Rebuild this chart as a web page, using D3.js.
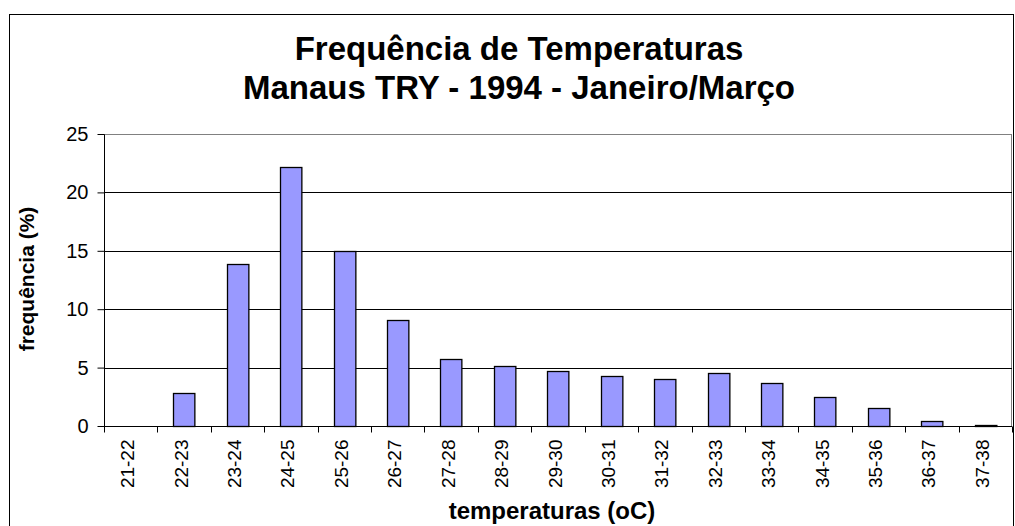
<!DOCTYPE html>
<html>
<head>
<meta charset="utf-8">
<script src="https://cdn.jsdelivr.net/npm/d3@7"></script>
<style>
  body { margin: 0; background: #fff; }
  svg { display: block; font-family: "Liberation Sans", Arial, sans-serif; }
  .axis path, .axis line { stroke: #000; }
</style>
</head>
<body>
<div id="chart"></div>
<script>
// faixas de temperatura (oC)
const categories = ["21-22", "22-23", "23-24", "24-25", "25-26", "26-27", "27-28", "28-29",
  "29-30", "30-31", "31-32", "32-33", "33-34", "34-35", "35-36", "36-37", "37-38"];
// frequencia (%)
const frequencies = [0, 2.8, 13.9, 22.2, 15.0, 9.05, 5.75, 5.1, 4.75, 4.3, 4.05, 4.5, 3.7, 2.45, 1.55, 0.45, 0.1];
const yTicks = [0, 5, 10, 15, 20, 25];
const titleLines = ["Frequência de Temperaturas", "Manaus TRY - 1994 - Janeiro/Março"];

const W = 1015, H = 526;
const margin = {top: 134, right: 3, bottom: 100, left: 104};
const width = W - margin.left - margin.right;
const height = H - margin.top - margin.bottom;

const svg = d3.select("#chart").append("svg")
  .attr("width", W)
  .attr("height", H);

// outer chart frame
svg.append("rect")
  .attr("x", 9.5).attr("y", 14.5)
  .attr("width", 1004).attr("height", 540)
  .attr("fill", "none").attr("stroke", "#000");

// title
svg.append("text")
  .attr("x", 519).attr("y", 60)
  .attr("text-anchor", "middle")
  .style("font-size", "33px").style("font-weight", "bold")
  .selectAll("tspan")
  .data(titleLines)
  .join("tspan")
  .attr("x", 519)
  .attr("dy", (d, i) => i === 0 ? 0 : 38.5)
  .text(d => d);

const g = svg.append("g")
  .attr("transform", `translate(${margin.left},${margin.top})`);

const x = d3.scaleBand().domain(categories).range([0, width]);
const xBar = d3.scaleBand().domain(categories).range([0, width])
  .paddingInner(0.6).paddingOuter(0.3);
const y = d3.scaleLinear().domain([0, 25]).range([height, 0]);

// plot area border (gray)
g.append("rect")
  .attr("x", 0.5).attr("y", 0.5)
  .attr("width", width - 1).attr("height", height)
  .attr("fill", "none").attr("stroke", "#808080");

// gridlines
g.selectAll(".grid")
  .data(yTicks.filter(t => t > 0 && t < 25))
  .join("line")
  .attr("class", "grid")
  .attr("x1", 0).attr("x2", width)
  .attr("y1", d => Math.round(y(d)) + 0.5)
  .attr("y2", d => Math.round(y(d)) + 0.5)
  .attr("stroke", "#000");

// bars
g.selectAll(".bar")
  .data(frequencies)
  .join("rect")
  .attr("class", "bar")
  .attr("x", (d, i) => Math.round(xBar(categories[i])) + 0.5)
  .attr("y", d => Math.round(y(d)) + 0.5)
  .attr("width", xBar.bandwidth())
  .attr("height", d => Math.max(0, height - Math.round(y(d))))
  .attr("fill", "#9999ff")
  .attr("stroke", d => d > 0 ? "#000" : "none")
  .attr("stroke-width", 1.3);

// y axis
const yAxis = d3.axisLeft(y).tickValues(yTicks).tickSize(7).tickPadding(9);
g.append("g")
  .attr("class", "axis y-axis")
  .attr("transform", "translate(0.5,0)")
  .call(yAxis)
  .call(s => s.select(".domain").attr("d", `M0,0.5V${height + 0.5}`))
  .selectAll("text")
  .style("font-size", "20px").style("font-family", "Liberation Sans, Arial, sans-serif").attr("fill", "#000");

// x axis: tick marks at category boundaries, labels rotated
const xAxisG = g.append("g")
  .attr("class", "axis x-axis")
  .attr("transform", `translate(0,${height + 0.5})`);
xAxisG.append("line")
  .attr("x1", 0).attr("x2", width)
  .attr("stroke", "#000");
xAxisG.selectAll(".xtick")
  .data(categories.concat(["end"]))
  .join("line")
  .attr("class", "xtick")
  .attr("x1", (d, i) => Math.round(i * x.step()) + 0.5)
  .attr("x2", (d, i) => Math.round(i * x.step()) + 0.5)
  .attr("y1", 0).attr("y2", 6)
  .attr("stroke", "#000");
xAxisG.selectAll(".xlabel")
  .data(categories)
  .join("text")
  .attr("class", "xlabel")
  .attr("transform", d => `translate(${x(d) + x.bandwidth() / 2 + 3.5},13) rotate(-90)`)
  .attr("text-anchor", "end")
  .style("font-size", "19px")
  .text(d => d);

// axis titles
svg.append("text")
  .attr("transform", `translate(34,279) rotate(-90)`)
  .attr("text-anchor", "middle")
  .style("font-size", "21px").style("font-weight", "bold")
  .text("frequência (%)");

svg.append("text")
  .attr("x", 552).attr("y", 519)
  .attr("text-anchor", "middle")
  .style("font-size", "24px").style("font-weight", "bold")
  .text("temperaturas (oC)");
</script>
</body>
</html>
